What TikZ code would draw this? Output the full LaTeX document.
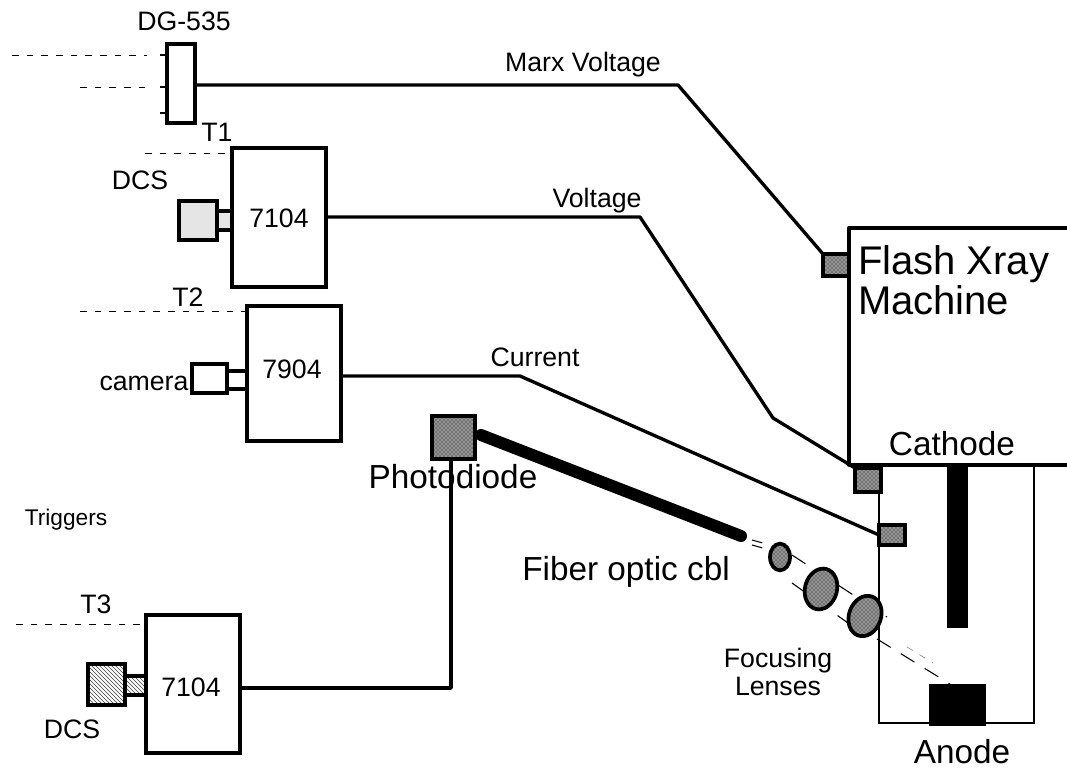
\documentclass[tikz,border=0pt]{standalone}
\usepackage{fontspec}
\setmainfont{Liberation Sans}
\usetikzlibrary{patterns,shapes.geometric}
\newcommand{\pxbox}[6]{\node[#6,minimum width={((#4)-(#2))*0.75pt},minimum height={((#5)-(#3))*0.75pt}] (#1) at ({((#2)+(#4))/2},{((#3)+(#5))/2}) {};}
\tikzset{
  x=0.75pt,y=-0.75pt,
  unit/.style={draw=black,line width=2.6pt,fill=white,inner sep=0,outer sep=0},
  stipple/.style={unit,preaction={fill=black!55},pattern=crosshatch dots,pattern color=white},
  probe/.style={stipple,line width=3pt},
  hatched/.style={unit,pattern=north west lines,pattern color=black!75},
  pale/.style={unit,fill=black!10},
  solidblock/.style={fill=black,draw=none,inner sep=0,outer sep=0},
  wire/.style={draw=black,line width=2.5pt,line join=round},
  thinwire/.style={draw=black,line width=1.6pt,line join=round},
  trig/.style={draw=black,line width=0.7pt,dash pattern=on 5pt off 6pt},
  ray/.style={draw=black,line width=0.8pt,dash pattern=on 12pt off 9pt},
  fray/.style={draw=black!45,line width=0.5pt,dash pattern=on 5pt off 6pt},
  lens/.style={ellipse,draw=black,line width=2.8pt,inner sep=0,outer sep=0,preaction={fill=black!55},pattern=crosshatch dots,pattern color=white},
  txt/.style={inner sep=0,outer sep=0,anchor=base},
  mid/.style={font=\fontsize{25}{25}\selectfont},
  std/.style={font=\fontsize{20}{20}\selectfont},
  sml/.style={font=\fontsize{17}{17}\selectfont},
}
\begin{document}
\begin{tikzpicture}
\useasboundingbox (0,0) rectangle (1067,770);
% machine
\coordinate (mtr) at (1067,228); \coordinate (mtl) at (849,228);
\coordinate (mbl) at (849,465); \coordinate (mbr) at (1067,465);
\draw[wire] (mtr) -- (mtl) -- (mbl) -- (mbr);
% chamber
\pxbox{chamber}{879}{465}{1034}{723}{unit,line width=1.9pt,fill=none}
\pxbox{cath}{947}{465}{968}{628}{solidblock}
\pxbox{anode}{929}{684}{986}{726}{solidblock}
% instruments
\pxbox{dg}{167}{44}{195}{123}{unit}
\pxbox{scopeA}{232}{148}{326}{287}{unit}
\pxbox{scopeB}{247}{306}{341}{441}{unit}
\pxbox{scopeC}{146}{615}{240}{753}{unit}
\pxbox{dcsA}{179}{201}{217}{240}{pale}
\pxbox{linkA}{217}{211}{232}{230}{pale}
\pxbox{cam}{192}{364}{227}{393}{unit}
\pxbox{linkB}{227}{371}{247}{389}{unit}
\pxbox{dcsC}{88}{664}{125}{705}{hatched}
\pxbox{linkC}{125}{676}{146}{695}{hatched}
\pxbox{diode}{432}{416}{475}{459}{stipple}
\pxbox{probeA}{823}{254}{849}{276}{probe}
\pxbox{probeB}{855}{468}{881}{492}{probe}
\pxbox{probeC}{879}{525}{905}{545}{probe}
% trigger stubs and dashes
\coordinate (s1) at (160,55); \coordinate (s2) at (160,87); \coordinate (s3) at (160,113);
\coordinate (s1e) at (167,55); \coordinate (s2e) at (167,87); \coordinate (s3e) at (167,113);
\draw[thinwire] (s1) -- (s1e) (s2) -- (s2e) (s3) -- (s3e);
\coordinate (d1a) at (12,55); \coordinate (d1b) at (147,55);
\coordinate (d2a) at (80,87); \coordinate (d2b) at (147,87);
\coordinate (d3a) at (145,153); \coordinate (d3b) at (232,153);
\coordinate (d4a) at (80,311); \coordinate (d4b) at (247,311);
\coordinate (d5a) at (16,624); \coordinate (d5b) at (146,624);
\draw[trig] (d1a) -- (d1b); \draw[trig] (d2a) -- (d2b);
\draw[trig] (d3a) -- (d3b); \draw[trig] (d4a) -- (d4b); \draw[trig] (d5a) -- (d5b);
% signal wires
\coordinate (k1a) at (196,85); \coordinate (k1) at (678,85);
\draw[wire] (k1a) -- (k1) -- (probeA.north west);
\coordinate (k2a) at (326,217); \coordinate (k2) at (640,217); \coordinate (k2b) at (773,418);
\draw[wire] (k2a) -- (k2) -- (k2b) -- (probeB.north west);
\coordinate (k3a) at (341,376); \coordinate (k3) at (520,376);
\draw[wire] (k3a) -- (k3) -- (probeC.west);
\coordinate (k4) at (451,688); \coordinate (k4a) at (240,688);
\draw[wire] (k4 |- diode.south) -- (k4) -- (k4a);
% fibre
\coordinate (f1) at (481,435); \coordinate (f2) at (741,536);
\draw[line width=9pt,line cap=round] (f1) -- (f2);
% rays
\coordinate (r1) at (752,540); \coordinate (r2) at (770,545);
\coordinate (r3) at (752,545); \coordinate (r4) at (770,550);
\coordinate (r5) at (792,555); \coordinate (r6) at (887,617);
\coordinate (r7) at (792,583); \coordinate (r8) at (848,623);
\coordinate (r9) at (877,639); \coordinate (r10) at (950,684);
\coordinate (r11) at (907,647); \coordinate (r12) at (933,663);
\draw[ray,dash pattern=on 8pt off 20pt] (r1) -- (r2); \draw[ray,dash pattern=on 8pt off 20pt] (r3) -- (r4);
\draw[ray] (r5) -- (r6); \draw[ray] (r7) -- (r8); \draw[ray] (r9) -- (r10);
\draw[fray] (r11) -- (r12);
% lenses
\node[lens,minimum width=15pt,minimum height=20pt] (lensA) at (780,557) {};
\node[lens,minimum width=24pt,minimum height=31pt,rotate=-15] (lensB) at (821,589) {};
\node[lens,minimum width=24pt,minimum height=31pt,rotate=-20] (lensC) at (865,616) {};
% labels
\node[txt,std] (tDG) at (184,31) {DG-535};
\node[txt,std] (tT1) at (217,142) {T1};
\node[txt,std] (tT2) at (188,306) {T2};
\node[txt,std] (tT3) at (96,613) {T3};
\node[txt,std] (tDa) at (140,190) {DCS};
\node[txt,std] (tDc) at (72,738) {DCS};
\node[txt,std] (tCam) at (144,390) {camera};
\node[txt,std] (tA) at (279,228) {7104};
\node[txt,std] (tB) at (292,378) {7904};
\node[txt,std] (tC) at (191,696) {7104};
\node[txt,std] (tMarx) at (583,72) {Marx Voltage};
\node[txt,std] (tVolt) at (597,207) {Voltage};
\node[txt,std] (tCur) at (535,366) {Current};
\node[txt,sml] (tTrig) at (66,525) {Triggers};
\node[txt,mid] (tPd) at (453,488) {Photodiode};
\node[txt,mid] (tFib) at (626,580) {Fiber optic cbl};
\node[txt,mid] (tCat) at (952,455) {Cathode};
\node[txt,mid] (tAn) at (962,763) {Anode};
\node[inner sep=0,outer sep=0,anchor=north west,align=left,font=\fontsize{30}{30}\selectfont] (tMach) at (858,246) {Flash Xray\\Machine};
\node[inner sep=0,outer sep=0,anchor=north,align=center,font=\fontsize{20}{21}\selectfont] (tFoc) at (778,648) {Focusing\\Lenses};
\end{tikzpicture}
\end{document}
